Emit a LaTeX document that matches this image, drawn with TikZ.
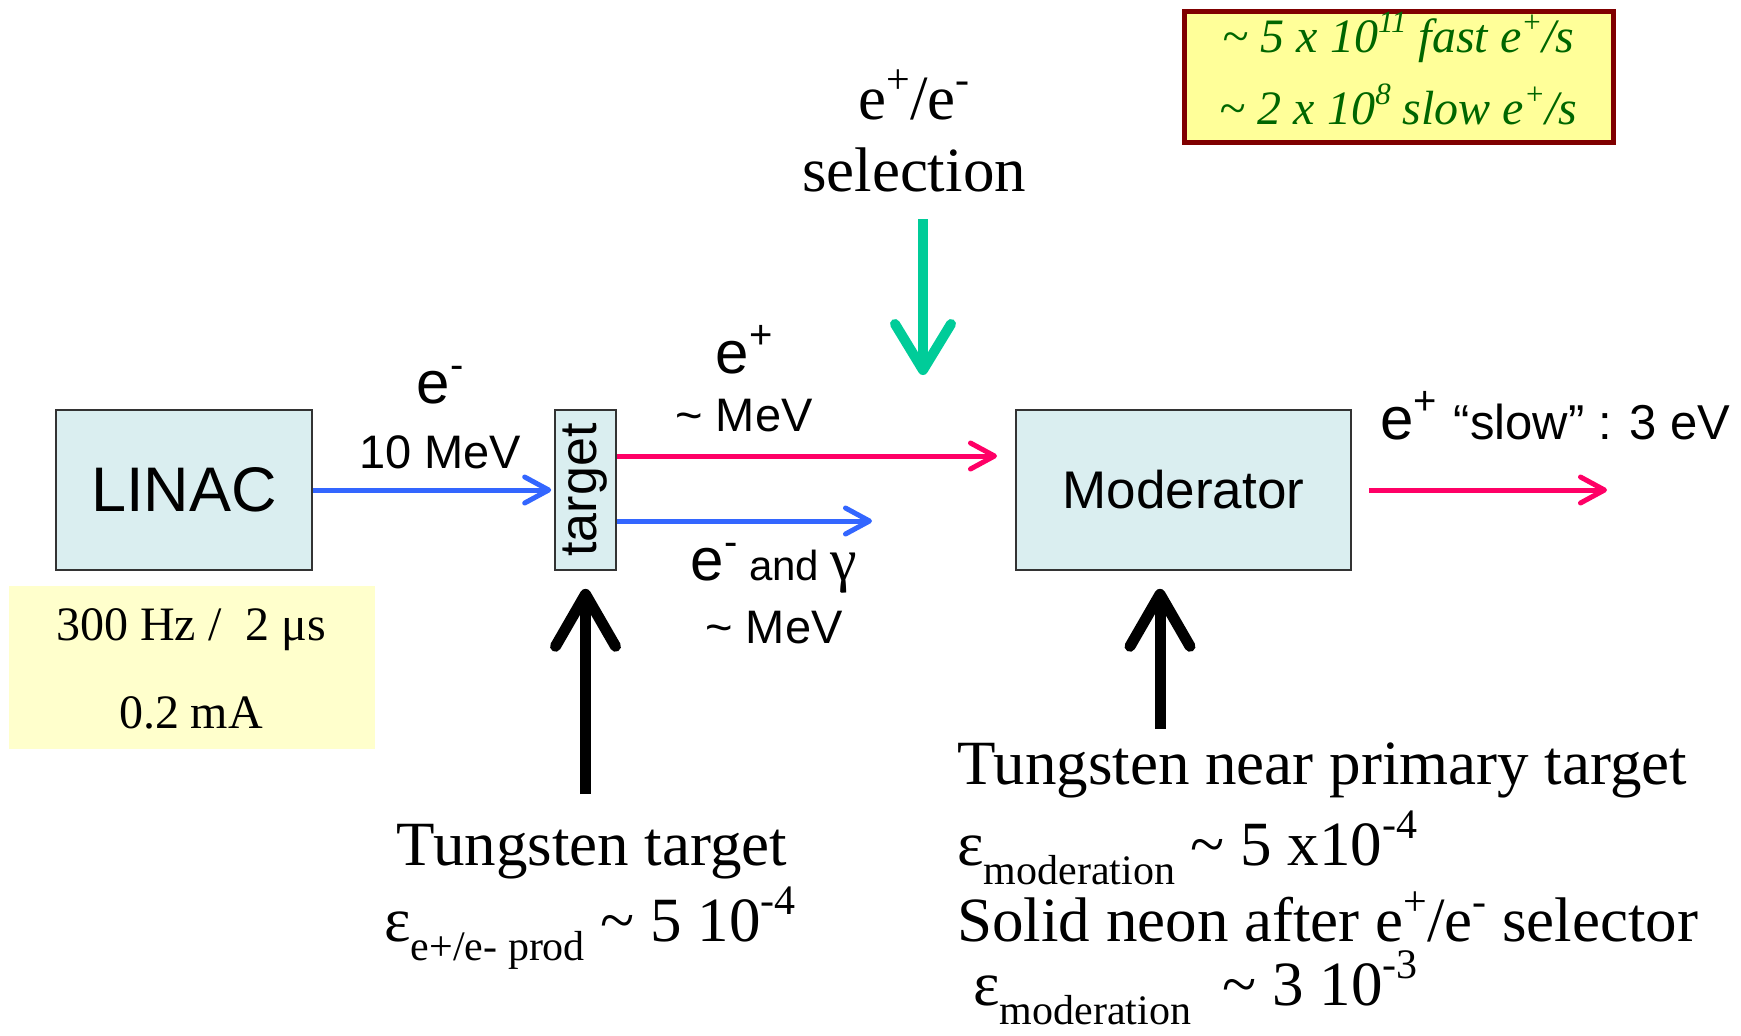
\documentclass[tikz,border=0pt]{standalone}
\usepackage{fontspec}
\setmainfont{Liberation Serif}
\newfontfamily\arialf{Liberation Sans}
\usetikzlibrary{arrows.meta}
\definecolor{boxfill}{RGB}{218,238,240}
\definecolor{noteyellow}{RGB}{255,255,204}
\definecolor{rateyellow}{RGB}{255,255,153}
\definecolor{rateborder}{RGB}{128,0,0}
\definecolor{rategreen}{RGB}{0,102,0}
\definecolor{beamblue}{RGB}{51,102,255}
\definecolor{beamred}{RGB}{255,0,102}
\definecolor{selgreen}{RGB}{0,204,153}
\newcommand\fsz[1]{\fontsize{#1}{#1}\selectfont}
\newcommand\hisup[2][21pt]{\raisebox{0.42em}{\fsz{#1}#2}}
\newcommand\losub[2][21pt]{\raisebox{-0.3em}{\fsz{#1}#2}}
\begin{document}
\begin{tikzpicture}[x=0.5pt,y=-0.5pt,
  block/.style={draw=black!80, line width=0.8pt, fill=boxfill, inner sep=0pt},
  thinbeam/.style={line width=2.5pt, -{Straight Barb[length=12pt,width=13pt,line cap=round,line join=round]}},
  bluebeam/.style={thinbeam, draw=beamblue},
  redbeam/.style={thinbeam, draw=beamred},
  bigup/.style={line width=5.5pt, -{Straight Barb[length=26pt,width=30pt,line cap=round,line join=round]}},
  selarrow/.style={line width=5pt, draw=selgreen, -{Straight Barb[length=23pt,width=28pt,line cap=round,line join=round]}},
  lbl/.style={inner sep=0pt, font=\arialf},
  serif/.style={inner sep=0pt, font=\fsz{31.5pt}}
]
\useasboundingbox (0,0) rectangle (1741,1035);

% boxes
\node[block, minimum width=128pt, minimum height=80pt, font=\arialf\fsz{31.5pt}] (linac) at (184,490) {LINAC};
\node[block, minimum width=30.5pt, minimum height=80pt] (target) at (585.5,490) {};
\node[rotate=90, inner sep=0pt, font=\arialf\fsz{26pt}] (targetlbl) at (target.center) {target};
\node[block, minimum width=167.5pt, minimum height=80pt, font=\arialf\fsz{26.5pt}] (mod) at (1183.5,490) {Moderator};

\node[fill=noteyellow, minimum width=183pt, minimum height=81.5pt, inner sep=0pt] (linacnote) at (192,667.5) {};
\node[inner sep=0pt, font=\fsz{24pt}] (note1) at (191,630) {300 Hz /\ \ 2 μs};
\node[inner sep=0pt, font=\fsz{24pt}] (note2) at (191,713) {0.2 mA};

\node[draw=rateborder, line width=2.5pt, fill=rateyellow, minimum width=214.5pt, minimum height=65.5pt, inner sep=0pt] (rates) at (1398.5,76.5) {};
\node[inner sep=0pt, font=\itshape\fsz{24pt}, text=rategreen] (rate1) at (1398.5,37) {\textasciitilde\ 5 x 10\hisup[15.5pt]{11} fast e\hisup[15.5pt]{+}/s};
\node[inner sep=0pt, font=\itshape\fsz{24pt}, text=rategreen] (rate2) at (1398.5,104) {\textasciitilde\ 2 x 10\hisup[15.5pt]{8} slow e\hisup[15.5pt]{+}/s};

% beams
\draw[bluebeam, shorten >=1.5pt] (linac.east) -- (target.west);
\coordinate (posend) at (997,456);
\draw[redbeam] (target.east |- posend) -- (posend);
\coordinate (eend) at (872,521);
\draw[bluebeam] (target.east |- eend) -- (eend);
\coordinate (slowend) at (1607,490);
\draw[redbeam, shorten <=8.5pt] (mod.east) -- (slowend);
\coordinate (seltop) at (923,219);
\coordinate (selend) at (923,375);
\draw[selarrow] (seltop) -- (selend);
\coordinate (wbot) at (585.5,794);
\draw[bigup, shorten >=9pt] (wbot) -- (target.south);
\coordinate (mbot) at (1160,729);
\draw[bigup, shorten >=9pt] (mbot) -- (mod.south -| mbot);

% beam labels
\node[lbl, font=\arialf\fsz{30pt}] (eminus) at (440,385) {e\hisup[20pt]{-}};
\node[lbl, font=\arialf\fsz{23.5pt}] (e10) at (440,452) {10 MeV};
\node[lbl, font=\arialf\fsz{30pt}] (eplus) at (744,350) {e\hisup[20pt]{+}};
\node[lbl, font=\arialf\fsz{23.5pt}] (pmev) at (744,416) {\textasciitilde\ MeV};
\node[lbl, font=\arialf\fsz{30pt}] (egam) at (774,568) {e\hisup[20pt]{-}{\fsz{21pt} and }{\rmfamily γ}};
\node[lbl, font=\arialf\fsz{23.5pt}] (gmev) at (774,628) {\textasciitilde\ MeV};
\node[serif] (sel1) at (914,95) {e\hisup{+}/e\hisup{-}};
\node[serif] (sel2) at (914,170) {selection};
\node[lbl, anchor=west, font=\arialf\fsz{30pt}] (slowlbl) at (1380,416) {e\hisup[20pt]{+} {\fsz{24.5pt}“slow” : 3 eV}};

% bottom texts
\node[serif] (wt1) at (592,852) {Tungsten target};
\node[serif, anchor=west] (wt2) at (384,928) {ε\losub{e+/e- prod} \textasciitilde\ 5 10\hisup{-4}};
\node[serif, anchor=west] (wn1) at (957,770) {Tungsten near primary target};
\node[serif, anchor=west] (wn2) at (957,848) {ε\losub{moderation} \textasciitilde\ 5 x10\hisup{-4}};
\node[serif, anchor=west] (wn3) at (957,917) {Solid neon after e\hisup{+}/e\hisup{-} selector};
\node[serif, anchor=west] (wn4) at (973,994) {ε\losub{moderation}\ \ \textasciitilde\ 3 10\smash{\hisup{-3}}};
\end{tikzpicture}
\end{document}
